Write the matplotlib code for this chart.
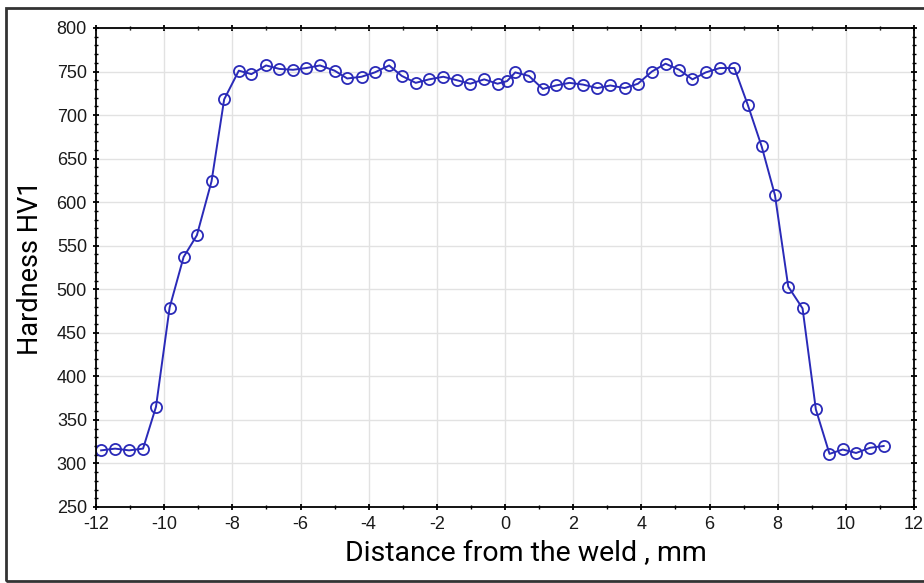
import matplotlib.pyplot as plt
from matplotlib.patches import Rectangle
from matplotlib.ticker import MultipleLocator

plt.rcParams['axes.unicode_minus'] = False

# Hardness profile across the weld
distance = [-11.85, -11.44, -11.03, -10.62, -10.24, -9.84, -9.43, -9.04, -8.61, -8.24,
            -7.81, -7.44, -7.01, -6.62, -6.22, -5.83, -5.43, -5.00, -4.63, -4.21,
            -3.82, -3.40, -3.03, -2.62, -2.23, -1.81, -1.41, -1.02, -0.61, -0.22,
            0.06, 0.30, 0.70, 1.11, 1.50, 1.89, 2.29, 2.71, 3.09, 3.51,
            3.90, 4.31, 4.71, 5.11, 5.50, 5.89, 6.30, 6.73, 7.12, 7.53,
            7.92, 8.31, 8.73, 9.12, 9.52, 9.91, 10.30, 10.71, 11.11]
hardness = [315, 317, 315, 317, 365, 479, 537, 562, 624, 718,
            751, 747, 757, 753, 752, 754, 757, 751, 742, 744,
            749, 757, 745, 737, 741, 744, 740, 736, 741, 736,
            739, 749, 745, 730, 734, 737, 735, 731, 734, 731,
            736, 750, 759, 752, 741, 749, 754, 754, 712, 664,
            608, 503, 478, 362, 311, 316, 312, 318, 320]

fig = plt.figure(figsize=(9.24, 5.83), dpi=100)
ax = fig.add_axes([0.1039, 0.1304, 0.8853, 0.8216])

ax.plot(distance, hardness, color='#2a2ab8', lw=1.4, marker='o', ms=8,
        mfc='none', mec='#2a2ab8', mew=1.3)

ax.set_xlim(-12, 12)
ax.set_ylim(250, 800)
ax.xaxis.set_major_locator(MultipleLocator(2))
ax.xaxis.set_minor_locator(MultipleLocator(1))
ax.yaxis.set_major_locator(MultipleLocator(50))
ax.yaxis.set_minor_locator(MultipleLocator(10))
ax.grid(True, which='major', color='#e2e2e2', lw=1)
ax.set_axisbelow(True)

ax.tick_params(which='both', top=True, right=True, direction='inout', color='black')
ax.tick_params(which='major', length=5, width=1.3, labelsize=13, pad=4)
ax.tick_params(which='minor', length=3, width=1)
for lab in ax.get_xticklabels() + ax.get_yticklabels():
    lab.set_family('Liberation Sans')
    lab.set_color('#1a1a1a')
for s in ax.spines.values():
    s.set_linewidth(1.3)

ax.set_xlabel('Distance from the weld , mm', family='Roboto', fontsize=20.5, labelpad=5)
ax.xaxis.label.set_x(0.526)
ax.set_ylabel('Hardness HV1', family='Roboto', fontsize=19.5, labelpad=9)

fig.patches.append(Rectangle((6 / 924, 2 / 583), 1.0, 1 - 10 / 583, transform=fig.transFigure,
                             fill=False, edgecolor='#333333', lw=2))

fig.savefig('out.png', dpi=100)
